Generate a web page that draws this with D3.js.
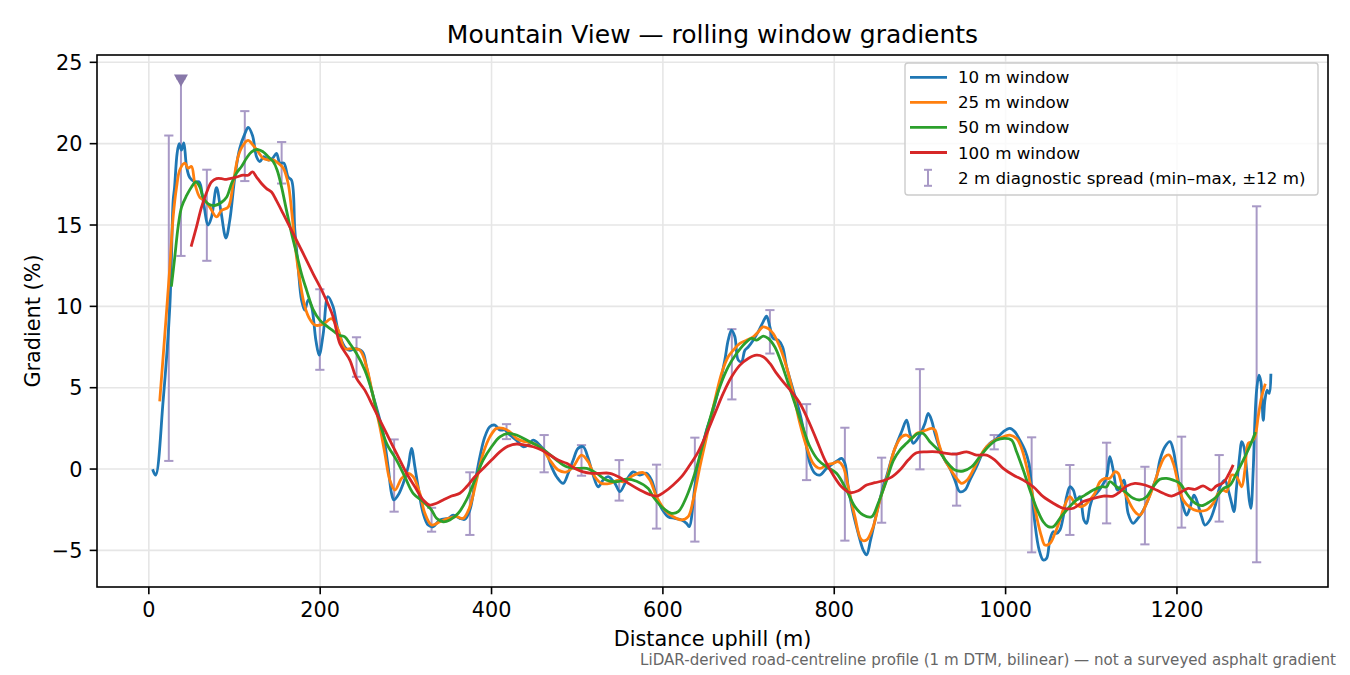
<!DOCTYPE html>
<html><head><meta charset="utf-8">
<script src="https://cdn.jsdelivr.net/npm/d3@7"></script>
<style>
html,body{margin:0;padding:0;background:#fff;}
svg{display:block;font-family:"DejaVu Sans",sans-serif;}
</style></head>
<body><svg id="chart" width="1350" height="675"></svg>
<script>
const chartTitle = "Mountain View \u2014 rolling window gradients";
const xLabel = "Distance uphill (m)";
const yLabel = "Gradient (%)";
const footnote = "LiDAR-derived road-centreline profile (1 m DTM, bilinear) \u2014 not a surveyed asphalt gradient";
const xTicks = [0, 200, 400, 600, 800, 1000, 1200];
const yTicks = [-5, 0, 5, 10, 15, 20, 25];
const seriesNames = ["10 m window", "25 m window", "50 m window", "100 m window"];
const seriesColors = ["#1f77b4", "#ff7f0e", "#2ca02c", "#d62728"];
const spreadLabel = "2 m diagnostic spread (min\u2013max, \u00b112 m)";

const win10 = [[5,-0.1],[8,-0.37],[16.7,4.2],[24.5,10],[28.4,16.5],[30,17.3],[33,19.4],[35.4,20.0],[38,19.6],[40.8,20.05],[44,18.6],[47.9,17.9],[53.7,17.65],[58.7,17.65],[63.4,16.5],[69.2,15.0],[73.2,15.5],[79,17.3],[84,15.9],[90,14.2],[94.5,15.3],[100.4,17.95],[106,19.7],[112,20.6],[116,21.0],[121,20.5],[125.7,19.2],[129.6,18.9],[134,19.2],[139,19.0],[144.4,19.1],[149,19.4],[153,18.8],[157.6,18.8],[162.6,17.95],[166.6,17.75],[170.4,14.7],[174.3,12.4],[178.2,10.4],[182,9.77],[186,10.4],[190,9.97],[195,7.9],[198.8,7.0],[203.5,8.3],[209,10.6],[215,10.0],[221,8.5],[228.8,7.5],[234.6,7.3],[241.6,7.4],[249.4,7.2],[254,6.3],[260,4.85],[267.7,3.4],[273.5,2.2],[279.3,0.14],[283.3,-1.5],[286,-1.9],[291,-1.6],[296.8,-0.9],[302.7,0.14],[306.6,1.27],[310.5,0.14],[314.3,-1.09],[320.2,-2.72],[326,-3.44],[331.9,-3.54],[339.7,-3.13],[349.4,-3.03],[355.2,-2.83],[363,-3.03],[368.9,-3.09],[374.7,-2.52],[380.5,-0.88],[386.4,0.76],[392.2,1.98],[398,2.6],[403.9,2.7],[409.7,2.4],[415.5,2.4],[421.4,2.09],[429,1.78],[436.9,1.37],[442.7,1.47],[448.6,1.78],[456.4,1.47],[464.2,0.96],[470,0.14],[475.9,-0.47],[483.6,-0.88],[489.5,-0.26],[495.3,0.55],[501,1.27],[507,1.37],[512.8,0.66],[518.6,-0.37],[524.5,-1.09],[530.3,-0.68],[536.1,-0.47],[544,-0.88],[549.8,-1.39],[557.6,-0.68],[565.3,-0.17],[573.1,-0.37],[581,-0.26],[586.8,-0.68],[592.6,-1.7],[598.4,-2.41],[606.2,-2.93],[614,-3.03],[621.8,-3.13],[627.6,-3.34],[630.7,-3.54],[637.3,-1.09],[643.2,0.76],[651,2.4],[658.7,3.62],[666.5,5.26],[672.3,6.7],[676.2,7.92],[680.1,8.54],[684,8.13],[687.9,6.7],[691.8,6.6],[695.7,7.3],[699.6,7.5],[705.4,7.92],[711.2,8.43],[717,9.05],[721,9.4],[724.9,8.74],[728.7,8.03],[734.6,7.92],[739.7,7.5],[744.4,6.28],[752.1,4.85],[759.9,3.42],[765.7,1.98],[771.6,0.35],[777.4,-0.26],[783.2,-0.37],[791,0.04],[798.8,0.35],[804.6,0.55],[808.5,0.66],[812.4,0.35],[816.3,-1.09],[822.1,-2.72],[828,-3.95],[833.8,-4.98],[837.7,-5.28],[842.4,-4.36],[849.4,-2.72],[857.1,-1.09],[861,-0.47],[868.8,0.96],[874.6,1.78],[878.6,2.29],[884.4,3.0],[888.3,2.19],[892.2,1.58],[896.1,1.78],[900.8,2.19],[905.8,2.8],[909.7,3.42],[913.6,3.0],[917.5,2.19],[922.5,1.37],[929.1,0.55],[935,0.04],[940.8,-0.68],[946.6,-1.39],[952.5,-1.29],[958.3,-0.68],[966.1,0.14],[973.9,1.06],[981.7,1.58],[989.5,1.88],[997.2,2.29],[1005,2.5],[1010.8,2.29],[1016.7,1.78],[1022.5,1.17],[1027.2,0.35],[1030.3,-1.09],[1034.2,-3.34],[1039.2,-4.98],[1043.9,-5.59],[1047.8,-5.49],[1051.7,-4.36],[1055.6,-3.85],[1059.5,-3.95],[1063.4,-3.75],[1067.3,-2.93],[1071.2,-1.7],[1075,-1.09],[1079,-1.29],[1082.9,-1.9],[1086.7,-1.7],[1091.4,-3.13],[1094.5,-3.34],[1098.4,-2.31],[1102.3,-1.7],[1106.2,-1.49],[1112,-1.09],[1117.9,-0.47],[1121.7,0.76],[1125.6,-0.06],[1130.3,-1.29],[1134.2,-1.09],[1138.1,-0.68],[1143,-2.72],[1149,-3.34],[1152.9,-3.13],[1158.7,-2.72],[1164.6,-2.1],[1170.4,-1.29],[1176.3,-0.47],[1180.1,0.55],[1186,1.37],[1191.8,1.68],[1195.7,1.17],[1199.6,-0.06],[1203.4,-1.29],[1207.3,-2.31],[1211.2,-2.83],[1215.1,-2.4],[1219.8,-1.6],[1222.9,-1.9],[1228.8,-2.93],[1232.6,-3.44],[1238.5,-3.13],[1244.3,-2.31],[1250.2,-1.09],[1256,-0.68],[1259.9,-1.29],[1263.8,-2.1],[1266.5,-2.62],[1269.6,-1.09],[1273.5,0.96],[1275.5,1.68],[1278.2,1.37],[1281.3,-0.06],[1284.4,-1.9],[1286.3,-2.41],[1289,-0.06],[1291,3.0],[1293,4.85],[1295.7,5.77],[1298,5.36],[1300.7,3.0],[1302.7,4.24],[1305.3,4.85],[1307.7,4.65],[1309.6,5.77]];

const win25 = [[12.8,4.24],[18.7,8.3],[24.5,12.4],[28.4,15.5],[32.3,17.3],[36.2,18.4],[42,18.8],[45.9,18.5],[49.8,18.6],[53.7,17.55],[59.5,16.7],[65.4,16.5],[71.2,16.1],[79,15.5],[84.9,15.9],[92.6,16.1],[98.4,17.55],[104.2,19.2],[110,19.9],[115.9,20.2],[121.7,19.9],[127.6,19.5],[133.4,19.1],[139.3,19.0],[145.1,19.0],[150.9,18.8],[156.8,18.5],[162.6,17.55],[166.6,15.9],[170.4,13.9],[176.3,11.6],[182,10.0],[188,9.2],[193.8,8.85],[203.5,8.9],[213.2,9.25],[221,8.54],[228.8,7.4],[236.6,7.4],[246.3,7.3],[254.1,6.28],[261.8,4.44],[269.6,2.6],[275.5,0.96],[281.3,-0.68],[287.2,-1.29],[295,-0.57],[302.7,-0.26],[308.5,-0.47],[316.3,-1.49],[322.2,-2.72],[330,-3.44],[339.7,-3.24],[349.4,-3.03],[359.2,-2.93],[366.9,-3.03],[374.7,-2.31],[382.5,-0.68],[390.2,0.96],[398,1.98],[405.8,2.5],[413.6,2.5],[421.4,2.29],[429.2,1.88],[438.9,1.68],[448.6,1.58],[458.4,1.27],[468.1,0.55],[477.8,-0.06],[487.6,-0.17],[495.3,0.14],[505,0.86],[512.8,0.45],[520.6,-0.47],[528.4,-0.88],[538.1,-0.88],[547.8,-0.68],[553.7,-0.78],[565.3,-0.4],[577,-0.22],[584.8,-0.68],[592.6,-1.7],[602.3,-2.52],[612,-2.93],[621.8,-3.13],[629.5,-2.93],[635.4,-1.9],[643.2,0.14],[651,1.98],[660.7,4.24],[668.5,5.88],[676.2,6.9],[682.1,7.3],[689.9,7.72],[697.7,7.92],[705.4,8.13],[711.2,8.43],[717,8.74],[722.9,8.64],[728.7,8.33],[736.5,7.5],[744.3,6.28],[752.1,4.65],[759.9,2.8],[767.7,1.37],[775.4,0.35],[783.2,0.04],[791,0.25],[798.8,0.35],[804.6,0.45],[810.4,0.14],[816.3,-1.09],[824.1,-2.93],[831.9,-4.36],[837.7,-4.36],[845.5,-3.54],[853.3,-1.9],[861.1,-0.6],[870.8,1.27],[878.6,1.98],[884.4,2.09],[890.3,1.88],[896.1,2.19],[901.9,2.29],[907.8,2.4],[913.6,2.5],[917.5,2.4],[921.4,1.68],[927.2,0.76],[935,0.04],[942.8,-0.57],[948.6,-0.88],[955.2,-0.68],[962.2,-0.06],[970,0.76],[977.8,1.37],[987.5,1.78],[997.2,1.98],[1005,2.09],[1012.8,1.88],[1018.7,1.27],[1024.5,0.14],[1030.3,-1.29],[1036.2,-2.93],[1042,-4.16],[1045.9,-4.67],[1051.7,-4.57],[1057.6,-3.95],[1063.4,-3.13],[1069.2,-2.21],[1075,-1.7],[1080.9,-2.1],[1086.7,-2.31],[1092.6,-2.21],[1098.4,-1.9],[1104.2,-1.49],[1110.1,-0.78],[1115.9,-0.57],[1121.7,-0.57],[1127.6,-0.17],[1131.4,-0.26],[1135.4,-0.9],[1141.2,-1.7],[1150.9,-2.62],[1156.8,-2.83],[1164.6,-2.1],[1172.3,-1.09],[1180.1,0.14],[1186,0.76],[1191,0.86],[1195.7,0.35],[1201.5,-0.88],[1207.3,-1.9],[1215.1,-2.35],[1222.9,-2.55],[1234.6,-2.52],[1242.4,-2.1],[1248.2,-1.49],[1254,-1.29],[1258,-1.39],[1263.8,-0.37],[1269.6,-0.47],[1275.5,-1.09],[1279.3,-0.06],[1283.2,1.58],[1287.2,1.68],[1291,1.98],[1294.8,3.21],[1298.8,4.44],[1302.7,5.16]];

const win50 = [[26.5,11.3],[30.3,13.04],[34.2,14.9],[38.2,16.1],[44,16.8],[49.8,17.34],[54.9,17.65],[59.5,17.34],[63.4,16.7],[69.2,16.3],[77,16.2],[84.9,16.4],[90.7,16.7],[96.5,17.55],[102.4,18.2],[108.2,18.6],[114,19.1],[119.9,19.5],[127.6,19.64],[133.4,19.5],[139.3,19.2],[145.1,18.9],[149.8,18.37],[154.9,17.34],[160.7,15.9],[166.6,14.48],[172.4,13.25],[178.2,12.0],[184.1,11.0],[191.8,9.8],[199.6,9.15],[207.4,8.8],[215.1,8.5],[222.1,8.23],[228.8,8.13],[234.6,7.72],[242.4,7.1],[252.1,6.08],[260,4.85],[267.7,3.21],[277.5,1.58],[289.1,0.55],[298.8,-0.47],[308.5,-1.49],[320.2,-2.0],[330,-2.52],[335.8,-3.03],[343.5,-3.24],[351.3,-3.13],[361.1,-2.72],[370.8,-1.9],[380.5,-0.68],[390.2,0.55],[400,1.37],[409.7,1.98],[419.4,2.19],[429.2,2.09],[440.9,1.78],[452.6,1.47],[464.2,1.06],[475.9,0.55],[487.6,0.14],[499.2,0.04],[510.9,0.04],[522.6,-0.26],[534.3,-0.68],[546,-0.78],[557.6,-0.62],[569.3,-0.75],[582.9,-1.2],[588.7,-1.7],[600.4,-2.41],[610.1,-2.72],[617.9,-2.62],[627.6,-1.7],[637.3,-0.26],[647,1.58],[656.8,3.42],[666.5,5.06],[676.2,6.28],[686,7.1],[695.7,7.72],[703.5,8.03],[709.3,7.92],[717,8.17],[722.9,8.03],[730.7,7.5],[738.5,6.49],[746.3,5.26],[754,4.04],[761.9,2.8],[771.6,1.37],[781.3,0.55],[791,0.14],[802.6,-0.26],[814.3,-1.29],[824.1,-2.31],[833.8,-2.83],[843.6,-2.93],[851.3,-2.1],[861.1,-0.7],[868.8,0.5],[876.6,1.17],[884.4,1.58],[892.2,1.98],[898,2.19],[903.8,2.19],[911.6,1.68],[921.4,1.17],[931.1,0.45],[940.8,-0.06],[950.5,-0.12],[960.3,0.14],[970,0.76],[979.7,1.37],[989.5,1.78],[999.2,1.88],[1007,1.78],[1012.8,1.06],[1020.6,-0.06],[1028.4,-1.29],[1036.2,-2.41],[1043.9,-3.24],[1049.7,-3.54],[1055.6,-3.54],[1063.4,-3.03],[1073.1,-2.41],[1082.9,-1.9],[1092.6,-1.6],[1102.3,-1.29],[1112,-1.09],[1117.9,-1.09],[1121.7,-0.78],[1129.5,-1.09],[1139.3,-1.39],[1149,-1.8],[1156.8,-1.9],[1164.6,-1.7],[1172.3,-1.09],[1180.1,-0.63],[1187.9,-0.57],[1195.7,-0.68],[1203.4,-0.88],[1211.2,-1.49],[1219,-2.0],[1228.8,-2.25],[1238.5,-2.0],[1246.3,-1.7],[1254,-1.2],[1261.8,-1.0],[1269.6,-0.26],[1277.4,0.55],[1285.2,1.42],[1291,2.19]];

const win100 = [[49.8,13.76],[55.7,14.9],[61.5,16.1],[67.4,17.0],[73.2,17.65],[79,17.85],[84.9,17.85],[88.7,17.8],[94.5,17.85],[102.4,17.95],[110.1,18.06],[115.9,18.06],[121,18.26],[125.7,17.95],[131.5,17.55],[137.4,17.24],[143.2,17.03],[149,16.5],[156.8,15.7],[168.4,14.48],[180.1,13.25],[191.8,12.0],[203.5,10.8],[215.1,9.36],[223,7.7],[234.6,6.7],[242.4,5.57],[252.1,4.85],[261.8,3.83],[271.6,2.8],[281.3,1.78],[291,0.76],[300.8,-0.26],[310.5,-1.09],[320.2,-1.9],[328,-2.21],[335.8,-2.1],[343.5,-1.9],[353.3,-1.66],[363,-1.49],[370.8,-1.09],[380.5,-0.47],[390.2,0.04],[400,0.55],[409.7,1.06],[419.4,1.41],[429.2,1.54],[438.9,1.47],[448.6,1.37],[458.4,1.17],[468.1,0.86],[477.8,0.55],[487.6,0.35],[497.3,0.04],[507,-0.17],[516.7,-0.26],[526.4,-0.26],[538.1,-0.26],[549.8,-0.52],[561.4,-0.93],[573.1,-1.29],[584.8,-1.57],[592.6,-1.66],[602.3,-1.39],[612,-0.98],[621.8,-0.47],[631.5,0.25],[641.2,1.06],[651,2.19],[660.7,3.42],[670.4,4.65],[680.2,5.67],[689.9,6.39],[699.6,6.8],[709.3,7.0],[717,6.9],[724.9,6.49],[732.7,5.88],[740.4,5.36],[750.2,4.75],[759.9,4.04],[769.6,3.0],[779.4,1.78],[789.1,0.55],[798.8,-0.37],[808.5,-1.09],[818.2,-1.45],[828,-1.33],[837.7,-0.98],[847.4,-0.84],[857.1,-0.72],[866.9,-0.5],[876.6,-0.06],[886.3,0.55],[896.1,1.0],[907.8,1.06],[919.4,1.06],[931.1,0.96],[942.8,0.92],[954.5,1.06],[966.1,0.86],[977.8,0.86],[987.5,0.55],[997.2,0.04],[1008.9,-0.37],[1020.6,-0.68],[1032.3,-1.09],[1043.9,-1.7],[1055.6,-2.1],[1067.3,-2.41],[1079,-2.41],[1090.6,-2.0],[1102.3,-1.8],[1114,-1.66],[1125.6,-1.66],[1133.4,-1.4],[1141.2,-1.05],[1150.9,-0.88],[1162.6,-0.98],[1172.3,-1.19],[1184,-1.49],[1193.7,-1.66],[1203.4,-1.45],[1213.1,-1.19],[1220.9,-1.25],[1230.5,-1.04],[1240.2,-1.29],[1246,-1.04],[1254,-0.84],[1259.9,-0.37],[1265,0.18]];

// diagnostic spread: distance, min, max
const spreadDist = [23.3,37.5,67.7,112,155,199.6,242.4,286.3,330,374.7,417.5,461.4,505,549,592.6,637.3,680.5,724.9,767.7,812.4,855.3,900,942.8,986.7,1030.4,1075,1117.9,1162.6,1205.4,1249.3,1293];
const spreadMin = [0.5,13.1,12.8,17.7,17.55,6.1,5.67,-2.62,-3.85,-4.05,1.84,-0.2,-0.41,-1.94,-3.66,-4.46,4.28,7.1,-0.68,-4.4,-3.3,-0.02,-2.25,1.21,-5.12,-4.05,-3.34,-4.63,-3.6,-3.23,-5.73];
const spreadMax = [20.5,24.0,18.4,22.0,20.1,11.05,8.1,1.82,-2.38,-0.2,2.76,2.09,1.47,0.55,0.27,1.93,8.6,9.77,3.99,2.54,0.7,6.14,0.96,2.09,1.95,0.25,1.62,0.14,1.99,0.86,16.15];
// clipped-peak marker
const peakMarkDist = [37.5];
const peakMarkGrad = [24.0];

const svg = d3.select("#chart");
const m = {l: 97, r: 1328, t: 55, b: 587};
const x = d3.scaleLinear().domain([-60.5, 1376.3]).range([m.l, m.r]);
const y = d3.scaleLinear().domain([-7.25, 25.45]).range([m.b, m.t]);
const font = '"DejaVu Sans", sans-serif';

svg.append("rect").attr("width",1350).attr("height",675).attr("fill","#fff");

// grid
const grid = svg.append("g");
grid.selectAll(".gx").data(xTicks).join("line")
  .attr("x1", d=>x(d)).attr("x2", d=>x(d)).attr("y1", m.t).attr("y2", m.b)
  .attr("stroke", "#e6e6e6").attr("stroke-width", 1.6);
grid.selectAll(".gy").data(yTicks).join("line")
  .attr("y1", d=>y(d)).attr("y2", d=>y(d)).attr("x1", m.l).attr("x2", m.r)
  .attr("stroke", "#e6e6e6").attr("stroke-width", 1.6);

// error bars
const ebColor = "#a899c6";
const eb = svg.append("g");
const cap = 4.6;
spreadDist.forEach((d, i) => {
  const g = eb.append("g");
  g.append("line").attr("x1", x(d)).attr("x2", x(d)).attr("y1", y(spreadMin[i])).attr("y2", y(spreadMax[i]))
    .attr("stroke", ebColor).attr("stroke-width", 2);
  [spreadMin[i], spreadMax[i]].forEach(v => {
    g.append("line").attr("x1", x(d)-cap).attr("x2", x(d)+cap).attr("y1", y(v)).attr("y2", y(v))
      .attr("stroke", ebColor).attr("stroke-width", 2);
  });
});

// lines
const line = d3.line().x(d=>x(d[0])).y(d=>y(d[1])).curve(d3.curveCatmullRom.alpha(0.5));
const allSeries = [win10, win25, win50, win100];
svg.append("g").selectAll("path").data(allSeries).join("path")
  .attr("d", line).attr("fill", "none")
  .attr("stroke", (d,i)=>seriesColors[i]).attr("stroke-width", 2.8)
  .attr("stroke-linejoin","round").attr("stroke-linecap","square");

// peak marker (downward triangle)
svg.append("g").selectAll("path").data(peakMarkDist).join("path")
  .attr("transform", (d,i)=>`translate(${x(d)},${y(peakMarkGrad[i])}) rotate(180)`)
  .attr("d", d3.symbol().type(d3.symbolTriangle).size(85))
  .attr("fill", "#8878a9");

// axes frame
svg.append("rect").attr("x", m.l).attr("y", m.t).attr("width", m.r-m.l).attr("height", m.b-m.t)
  .attr("fill","none").attr("stroke","#000").attr("stroke-width",1.6);

// ticks
const tk = svg.append("g");
xTicks.forEach(t => {
  tk.append("line").attr("x1",x(t)).attr("x2",x(t)).attr("y1",m.b).attr("y2",m.b+7.3).attr("stroke","#000").attr("stroke-width",1.6);
  tk.append("text").attr("x",x(t)).attr("y",m.b+29.5).attr("text-anchor","middle")
    .attr("font-family",font).attr("font-size",20.8).attr("fill","#000").text(t);
});
yTicks.forEach(t => {
  tk.append("line").attr("x1",m.l-7.3).attr("x2",m.l).attr("y1",y(t)).attr("y2",y(t)).attr("stroke","#000").attr("stroke-width",1.6);
  tk.append("text").attr("x",m.l-14.5).attr("y",y(t)+7.6).attr("text-anchor","end")
    .attr("font-family",font).attr("font-size",20.8).attr("fill","#000").text(t<0 ? "\u2212"+Math.abs(t) : t);
});

// labels
svg.append("text").attr("x",(m.l+m.r)/2).attr("y",43).attr("text-anchor","middle")
  .attr("font-family",font).attr("font-size",25).attr("fill","#000").text(chartTitle);
svg.append("text").attr("x",(m.l+m.r)/2).attr("y",646).attr("text-anchor","middle")
  .attr("font-family",font).attr("font-size",20.8).attr("fill","#000").text(xLabel);
svg.append("text").attr("transform",`translate(40,${(m.t+m.b)/2}) rotate(-90)`).attr("text-anchor","middle")
  .attr("font-family",font).attr("font-size",20.8).attr("fill","#000").text(yLabel);
svg.append("text").attr("x",1336).attr("y",665).attr("text-anchor","end")
  .attr("font-family",font).attr("font-size",15.1).attr("fill","#666").text(footnote);

// legend
const lg = svg.append("g");
lg.append("rect").attr("x",905).attr("y",63).attr("width",413).attr("height",132).attr("rx",3)
  .attr("fill","#fff").attr("fill-opacity",0.8).attr("stroke","#cccccc").attr("stroke-width",1.4);
const rowY = [77.3, 102.3, 127.3, 152.5, 177.8];
seriesNames.forEach((n,i) => {
  lg.append("line").attr("x1",910).attr("x2",947).attr("y1",rowY[i]).attr("y2",rowY[i])
    .attr("stroke",seriesColors[i]).attr("stroke-width",2.8);
  lg.append("text").attr("x",958).attr("y",rowY[i]+6).attr("font-family",font).attr("font-size",16.7).attr("fill","#000").text(n);
});
const ey = rowY[4];
lg.append("line").attr("x1",928).attr("x2",928).attr("y1",ey-8).attr("y2",ey+8).attr("stroke",ebColor).attr("stroke-width",2);
lg.append("line").attr("x1",924).attr("x2",932).attr("y1",ey-8).attr("y2",ey-8).attr("stroke",ebColor).attr("stroke-width",2);
lg.append("line").attr("x1",924).attr("x2",932).attr("y1",ey+8).attr("y2",ey+8).attr("stroke",ebColor).attr("stroke-width",2);
lg.append("text").attr("x",958).attr("y",ey+6).attr("font-family",font).attr("font-size",16.7).attr("fill","#000").text(spreadLabel);
</script>
</body></html>
